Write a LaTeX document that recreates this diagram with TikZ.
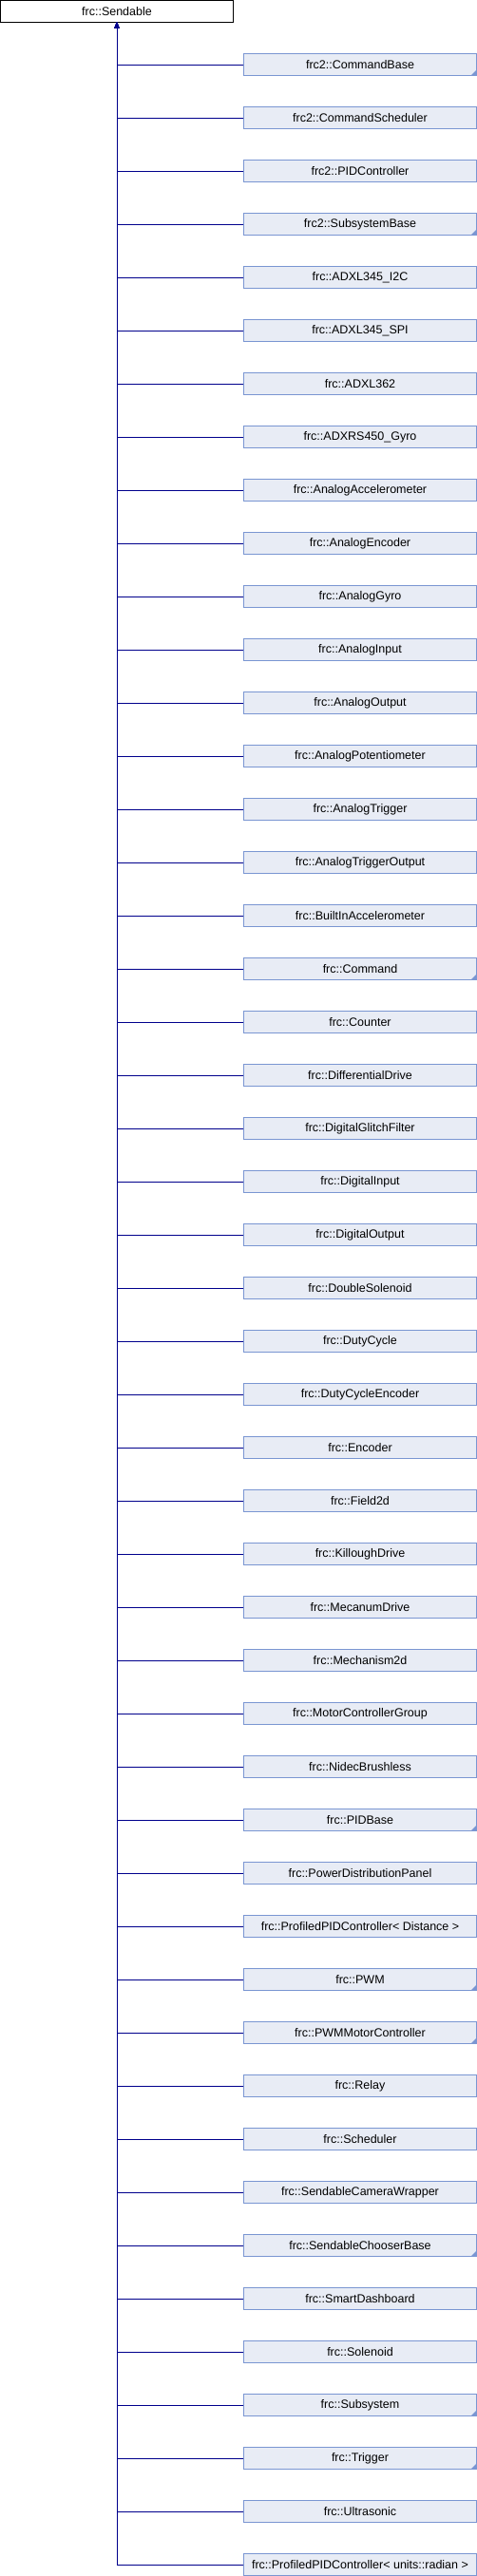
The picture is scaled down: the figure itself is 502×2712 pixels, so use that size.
\documentclass[tikz,border=0pt]{standalone}
\usepackage{fontspec}
\setmainfont{Liberation Sans}
\usepackage{tikz}
\usetikzlibrary{arrows.meta,positioning}

\definecolor{edgeblue}{RGB}{0,0,140}
\definecolor{boxline}{RGB}{122,150,210}
\definecolor{boxfill}{RGB}{232,236,245}

\tikzset{
  base/.style={draw=black,fill=white,line width=1pt,inner sep=0pt,
    minimum width=245pt,minimum height=22.5pt,font=\fontsize{12.5}{14}\selectfont},
  derived/.style={draw=boxline,fill=boxfill,line width=1pt,inner sep=0pt,
    minimum width=245pt,minimum height=23pt,font=\fontsize{12.5}{14}\selectfont},
  more/.style={path picture={\fill[boxline] (path picture bounding box.south east)
    -- ++(-6pt,0pt) -- ++(6pt,6pt) -- cycle;}},
  inherit/.style={draw=edgeblue,line width=1pt,-{Triangle[length=6pt,width=5pt]}}
}

\begin{document}
\begin{tikzpicture}[x=1pt,y=-1pt]
  \useasboundingbox (0,0) rectangle (502,2712) ;
  \node[base] (sendable) at (123,11.75) {frc::Sendable} ;

  \node[derived,more] (commandbase) at (379,68) {frc2::CommandBase} ;
  \node[derived] (commandscheduler) at (379,124) {frc2::CommandScheduler} ;
  \node[derived] (pidcontroller2) at (379,180) {frc2::PIDController} ;
  \node[derived,more] (subsystembase) at (379,236) {frc2::SubsystemBase} ;
  \node[derived] (adxlitwoc) at (379,292) {frc::ADXL345\_I2C} ;
  \node[derived] (adxlspi) at (379,348) {frc::ADXL345\_SPI} ;
  \node[derived] (adxlsixtwo) at (379,404) {frc::ADXL362} ;
  \node[derived] (adxrsgyro) at (379,460) {frc::ADXRS450\_Gyro} ;
  \node[derived] (analogaccel) at (379,516) {frc::AnalogAccelerometer} ;
  \node[derived] (analogencoder) at (379,572) {frc::AnalogEncoder} ;
  \node[derived] (analoggyro) at (379,628) {frc::AnalogGyro} ;
  \node[derived] (analoginput) at (379,684) {frc::AnalogInput} ;
  \node[derived] (analogoutput) at (379,740) {frc::AnalogOutput} ;
  \node[derived] (analogpot) at (379,796) {frc::AnalogPotentiometer} ;
  \node[derived] (analogtrigger) at (379,852) {frc::AnalogTrigger} ;
  \node[derived] (analogtrigout) at (379,908) {frc::AnalogTriggerOutput} ;
  \node[derived] (builtinaccel) at (379,964) {frc::BuiltInAccelerometer} ;
  \node[derived,more] (command) at (379,1020) {frc::Command} ;
  \node[derived] (counter) at (379,1076) {frc::Counter} ;
  \node[derived] (diffdrive) at (379,1132) {frc::DifferentialDrive} ;
  \node[derived] (glitchfilter) at (379,1188) {frc::DigitalGlitchFilter} ;
  \node[derived] (digitalinput) at (379,1244) {frc::DigitalInput} ;
  \node[derived] (digitaloutput) at (379,1300) {frc::DigitalOutput} ;
  \node[derived] (doublesolenoid) at (379,1356) {frc::DoubleSolenoid} ;
  \node[derived] (dutycycle) at (379,1412) {frc::DutyCycle} ;
  \node[derived] (dutyencoder) at (379,1468) {frc::DutyCycleEncoder} ;
  \node[derived] (encoder) at (379,1524) {frc::Encoder} ;
  \node[derived] (fieldtwod) at (379,1580) {frc::Field2d} ;
  \node[derived] (killough) at (379,1636) {frc::KilloughDrive} ;
  \node[derived] (mecanum) at (379,1692) {frc::MecanumDrive} ;
  \node[derived] (mechanism) at (379,1748) {frc::Mechanism2d} ;
  \node[derived] (motorgroup) at (379,1804) {frc::MotorControllerGroup} ;
  \node[derived] (nidec) at (379,1860) {frc::NidecBrushless} ;
  \node[derived,more] (pidbase) at (379,1916) {frc::PIDBase} ;
  \node[derived] (pdp) at (379,1972) {frc::PowerDistributionPanel} ;
  \node[derived] (profileddist) at (379,2028) {frc::ProfiledPIDController< Distance >} ;
  \node[derived,more] (pwm) at (379,2084) {frc::PWM} ;
  \node[derived,more] (pwmmotor) at (379,2140) {frc::PWMMotorController} ;
  \node[derived] (relay) at (379,2196) {frc::Relay} ;
  \node[derived] (scheduler) at (379,2252) {frc::Scheduler} ;
  \node[derived] (camerawrapper) at (379,2308) {frc::SendableCameraWrapper} ;
  \node[derived,more] (chooserbase) at (379,2364) {frc::SendableChooserBase} ;
  \node[derived] (dashboard) at (379,2420) {frc::SmartDashboard} ;
  \node[derived] (solenoid) at (379,2476) {frc::Solenoid} ;
  \node[derived,more] (subsystem) at (379,2532) {frc::Subsystem} ;
  \node[derived,more] (trigger) at (379,2588) {frc::Trigger} ;
  \node[derived] (ultrasonic) at (379,2644) {frc::Ultrasonic} ;
  \node[derived] (profiledrad) at (379,2700) {frc::ProfiledPIDController< units::radian >} ;

  % inheritance lines, all into the one trunk
  \foreach \child in {commandbase,commandscheduler,pidcontroller2,subsystembase,
      adxlitwoc,adxlspi,adxlsixtwo,adxrsgyro,analogaccel,analogencoder,analoggyro,
      analoginput,analogoutput,analogpot,analogtrigger,analogtrigout,builtinaccel,
      command,counter,diffdrive,glitchfilter,digitalinput,digitaloutput,
      doublesolenoid,dutycycle,dutyencoder,encoder,fieldtwod,killough,mecanum,
      mechanism,motorgroup,nidec,pidbase,pdp,profileddist,pwm,pwmmotor,relay,
      scheduler,camerawrapper,chooserbase,dashboard,solenoid,subsystem,trigger,
      ultrasonic,profiledrad}
    \draw[inherit] (\child.west) -| (sendable.south) ;
\end{tikzpicture}
\end{document}
